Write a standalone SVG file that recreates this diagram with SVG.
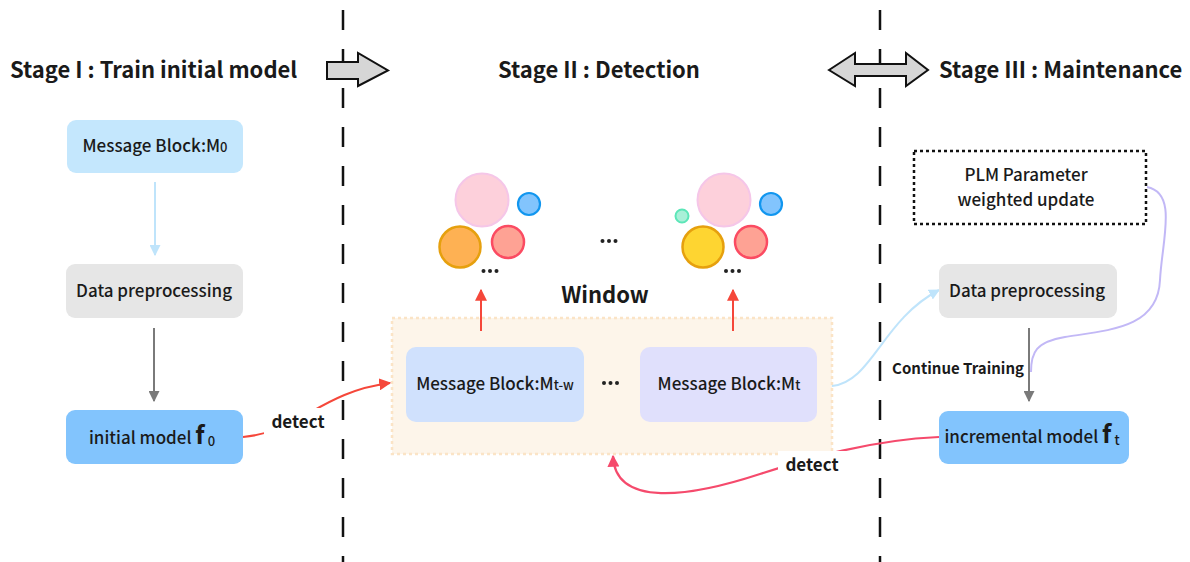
<svg xmlns="http://www.w3.org/2000/svg" width="1190" height="562" viewBox="0 0 1190 562">
  <style>
    text { font-family: "Noto Sans CJK SC", "Noto Sans", sans-serif; fill: #1a1a1a; }
    .title { font-size: 22px; font-weight: bold; }
    .lbl { font-size: 17px; font-weight: 500; text-anchor: middle; }
    .edge-lbl { font-size: 17px; font-weight: bold; text-anchor: middle; }
    .sub { font-size: 13px; }
    .fbig { font-size: 25px; font-weight: bold; }
    .divider { stroke: #111; stroke-width: 2.5; stroke-dasharray: 20 19; fill: none; }
    .stage-arrow { fill: #d6d6d6; stroke: #111; stroke-width: 2; stroke-linejoin: miter; }
    .dots { fill: #222; }
  </style>
  <defs>
    <marker id="ah-blue" viewBox="0 0 10 10" refX="9" refY="5" markerWidth="11" markerHeight="11" markerUnits="userSpaceOnUse" orient="auto">
      <path d="M0,0 L10,5 L0,10 z" fill="#bfe4fb"/>
    </marker>
    <marker id="ah-gray" viewBox="0 0 10 10" refX="9" refY="5" markerWidth="11" markerHeight="11" markerUnits="userSpaceOnUse" orient="auto">
      <path d="M0,0 L10,5 L0,10 z" fill="#7a7a7a"/>
    </marker>
    <marker id="ah-red" viewBox="0 0 10 10" refX="9" refY="5" markerWidth="12" markerHeight="12" markerUnits="userSpaceOnUse" orient="auto">
      <path d="M0,0 L10,5 L0,10 z" fill="#f5473a"/>
    </marker>
    <marker id="ah-pink" viewBox="0 0 10 10" refX="9" refY="5" markerWidth="12" markerHeight="12" markerUnits="userSpaceOnUse" orient="auto">
      <path d="M0,0 L10,5 L0,10 z" fill="#f54a6c"/>
    </marker>
  </defs>

  <!-- stage dividers -->
  <g id="dividers">
    <line class="divider" x1="343" y1="10" x2="343" y2="562"/>
    <line class="divider" x1="880" y1="10" x2="880" y2="562"/>
  </g>

  <!-- stage headings and transition arrows -->
  <g id="stage-titles">
    <text class="title" x="10" y="78">Stage I : Train initial model</text>
    <text class="title" x="599" y="78" text-anchor="middle">Stage II : Detection</text>
    <text class="title" x="939" y="78">Stage III : Maintenance</text>
    <path class="stage-arrow" d="M327,62 L358,62 L358,53 L388,70.5 L358,86 L358,79 L327,79 z"/>
    <path class="stage-arrow" d="M829,70 L855,53 L855,64 L906,64 L906,53 L928,70 L906,86 L906,76 L855,76 L855,86 z"/>
  </g>

  <!-- window container -->
  <g id="window">
    <rect x="392" y="318" width="440" height="136" fill="#fdf5ea" stroke="#fbe4c6" stroke-width="2.5" stroke-dasharray="3 3"/>
    <text x="605" y="303" font-size="22" font-weight="bold" text-anchor="middle">Window</text>
    <circle class="dots" cx="604" cy="383" r="2"/>
    <circle class="dots" cx="610.5" cy="383" r="2"/>
    <circle class="dots" cx="617" cy="383" r="2"/>
  </g>

  <!-- connectors -->
  <g id="connectors" fill="none">
    <line x1="155" y1="182" x2="155" y2="255" stroke="#bfe4fb" stroke-width="2" marker-end="url(#ah-blue)"/>
    <line x1="154" y1="328" x2="154" y2="401" stroke="#7a7a7a" stroke-width="2" marker-end="url(#ah-gray)"/>
    <path d="M243,437 C300,432 320,392 390,383" stroke="#f5473a" stroke-width="2" marker-end="url(#ah-red)"/>
    <line x1="481" y1="331" x2="481" y2="290" stroke="#f5473a" stroke-width="2" marker-end="url(#ah-red)"/>
    <line x1="733" y1="331" x2="733" y2="290" stroke="#f5473a" stroke-width="2" marker-end="url(#ah-red)"/>
    <path d="M832,386 C872,382 882,320 939,290" stroke="#bfe4fb" stroke-width="2" marker-end="url(#ah-blue)"/>
    <path d="M1147,187 C1178,193 1162,240 1160,280 C1158,328 1110,330 1065,337 C1036,342 1031,352 1031,372" stroke="#c2b8f6" stroke-width="2"/>
    <line x1="1029" y1="328" x2="1029" y2="401" stroke="#7a7a7a" stroke-width="2" marker-end="url(#ah-gray)"/>
    <path d="M939,437 C870,440 810,458 760,474 C690,497 615,508 613,456" stroke="#f54a6c" stroke-width="2.2" marker-end="url(#ah-pink)"/>
    <!-- edge labels sit on a white backing so the curves break around them -->
    <rect x="264" y="408" width="68" height="26" fill="#fff"/>
    <text class="edge-lbl" x="298" y="428">detect</text>
    <rect x="778" y="451" width="68" height="26" fill="#fff"/>
    <text class="edge-lbl" x="812" y="471">detect</text>
    <text x="1024" y="374" font-size="15" font-weight="bold" text-anchor="end">Continue Training</text>
  </g>

  <!-- stage I nodes -->
  <g id="msg-block-m0">
    <rect x="67" y="120" width="176" height="53" rx="9" fill="#c4e7fd"/>
    <text class="lbl" x="155" y="152">Message Block:M<tspan class="sub">0</tspan></text>
  </g>
  <g id="preprocess-1">
    <rect x="66" y="264" width="177" height="54" rx="9" fill="#e6e6e6"/>
    <text class="lbl" x="154" y="297">Data preprocessing</text>
  </g>
  <g id="initial-model">
    <rect x="66" y="410" width="177" height="54" rx="9" fill="#82c4fd"/>
    <text class="lbl" x="152" y="444">initial model <tspan class="fbig">f</tspan><tspan class="sub" dx="3" dy="2">0</tspan></text>
  </g>

  <!-- stage II nodes -->
  <g id="msg-block-mtw">
    <rect x="406" y="347" width="178" height="75" rx="10" fill="#d0e1fd"/>
    <text class="lbl" x="495" y="390">Message Block:M<tspan class="sub">t-w</tspan></text>
  </g>
  <g id="msg-block-mt">
    <rect x="640" y="347" width="177" height="75" rx="10" fill="#e0e0fc"/>
    <text class="lbl" x="729" y="390">Message Block:M<tspan class="sub">t</tspan></text>
  </g>

  <g id="clusters-tw">
    <circle cx="482" cy="200" r="26.5" fill="#fdd0db" stroke="#f5c6e8" stroke-width="2"/>
    <circle cx="529" cy="204" r="11" fill="#82c4fd" stroke="#1196ef" stroke-width="2.2"/>
    <circle cx="460" cy="247" r="20.5" fill="#feb153" stroke="#e6a00e" stroke-width="2.5"/>
    <circle cx="508" cy="242" r="16" fill="#fea294" stroke="#fb4b62" stroke-width="2.5"/>
    <circle class="dots" cx="483.5" cy="271" r="2"/>
    <circle class="dots" cx="490" cy="271" r="2"/>
    <circle class="dots" cx="496.5" cy="271" r="2"/>
  </g>
  <g id="clusters-gap">
    <circle class="dots" cx="602.5" cy="241" r="2"/>
    <circle class="dots" cx="609" cy="241" r="2"/>
    <circle class="dots" cx="615.5" cy="241" r="2"/>
  </g>
  <g id="clusters-t">
    <circle cx="682" cy="216" r="6.5" fill="#a9f0d8" stroke="#5ce6b8" stroke-width="2"/>
    <circle cx="724" cy="200" r="26.5" fill="#fdd0db" stroke="#f5c6e8" stroke-width="2"/>
    <circle cx="771" cy="204" r="11" fill="#82c4fd" stroke="#1196ef" stroke-width="2.2"/>
    <circle cx="703" cy="247" r="20.5" fill="#fed531" stroke="#e6a00e" stroke-width="2.5"/>
    <circle cx="751" cy="242" r="16" fill="#fea294" stroke="#fb4b62" stroke-width="2.5"/>
    <circle class="dots" cx="726" cy="271" r="2"/>
    <circle class="dots" cx="732.5" cy="271" r="2"/>
    <circle class="dots" cx="739" cy="271" r="2"/>
  </g>

  <!-- stage III nodes -->
  <g id="plm-update">
    <rect x="914" y="151" width="232" height="73" fill="#fff" stroke="#111" stroke-width="2.5" stroke-dasharray="3 3"/>
    <text class="lbl" x="1026" y="181">PLM Parameter</text>
    <text class="lbl" x="1026" y="206">weighted update</text>
  </g>
  <g id="preprocess-2">
    <rect x="939" y="264" width="178" height="54" rx="9" fill="#e6e6e6"/>
    <text class="lbl" x="1027" y="297">Data preprocessing</text>
  </g>
  <g id="incremental-model">
    <rect x="939" y="411" width="190" height="53" rx="9" fill="#82c4fd"/>
    <text class="lbl" x="1032" y="443">incremental model <tspan class="fbig">f</tspan><tspan class="sub" dx="3" dy="2">t</tspan></text>
  </g>
</svg>
